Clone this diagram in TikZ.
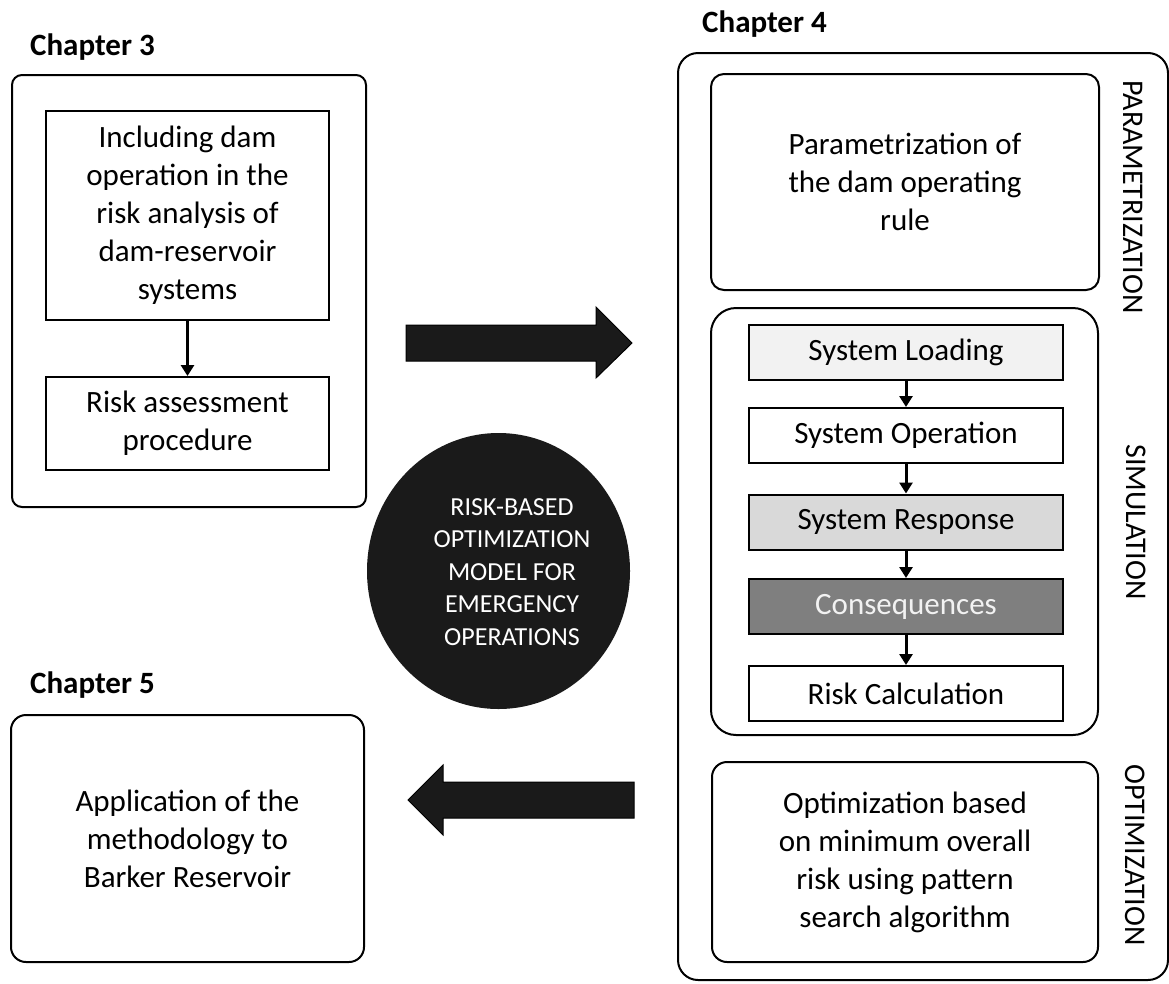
\documentclass[tikz,border=0pt]{standalone}
\usepackage{fontspec}
\setmainfont{Carlito}
\usetikzlibrary{arrows.meta,shapes.geometric}
\definecolor{lightfill}{HTML}{F2F2F2}
\definecolor{midfill}{HTML}{D9D9D9}
\definecolor{darkfill}{HTML}{7F7F7F}
\definecolor{blockfill}{HTML}{1A1A1A}
\begin{document}
\begin{tikzpicture}[x=1pt,y=-1pt,
  every node/.style={font=\fontsize{31}{38}\selectfont, inner sep=0pt},
  chap/.style={font=\fontsize{31}{38}\selectfont\bfseries, anchor=base west},
  frame/.style={draw=black, line width=2pt, rounded corners=#1, align=center},
  frame/.default=14pt,
  plainbox/.style={draw=black, line width=2pt, align=center},
  simbox/.style={draw=black, line width=2pt, align=center, minimum width=314pt, minimum height=55pt},
  side/.style={font=\fontsize{30}{36}\selectfont, rotate=-90},
  flow/.style={line width=3pt, -{Triangle[length=11pt,width=13pt]}},
  block/.style={fill=blockfill, draw=black, line width=1pt, line join=miter}
]
\useasboundingbox (0,0) rectangle (1169,983);

% Chapter 3
\node[chap] (c3lab) at (30,55) {Chapter 3};
\node[frame=10pt, minimum width=354pt, minimum height=432pt] (c3) at (189,291) {};
\node[plainbox, minimum width=283pt, minimum height=209pt] (inc) at (187.5,215.5)
  {Including dam\\operation in the\\risk analysis of\\dam-reservoir\\systems};
\node[plainbox, minimum width=283pt, minimum height=93pt] (rap) at (187.5,423.5)
  {Risk assessment\\procedure};
\draw[flow] (inc.south) -- (rap.north);

% Chapter 4
\node[chap] (c4lab) at (702,32) {Chapter 4};
\node[frame=20pt, minimum width=490pt, minimum height=927pt] (c4) at (923,516.5) {};
\node[frame=13pt, minimum width=388pt, minimum height=216pt] (param) at (905,182)
  {Parametrization of\\the dam operating\\rule};
\node[frame=25pt, minimum width=387pt, minimum height=427pt] (sim) at (904.5,521.5) {};
\node[simbox, fill=lightfill] (load) at (906,352.5) {System Loading};
\node[simbox] (oper) at (906,435.5) {System Operation};
\node[simbox, fill=midfill] (resp) at (906,522) {System Response};
\node[simbox, fill=darkfill, text=lightfill] (cons) at (906,606.5) {Consequences};
\node[simbox] (riskc) at (906,693.5) {Risk Calculation};
\draw[flow] (load.south) -- (oper.north);
\draw[flow] (oper.south) -- (resp.north);
\draw[flow] (resp.south) -- (cons.north);
\draw[flow] (cons.south) -- (riskc.north);
\node[frame=15pt, minimum width=386pt, minimum height=200pt] (opt) at (905,862)
  {Optimization based\\on minimum overall\\risk using pattern\\search algorithm};
\node[side] (lpar) at (1133,197) {PARAMETRIZATION};
\node[side] (lsim) at (1136,522) {SIMULATION};
\node[side] (lopt) at (1135,855) {OPTIMIZATION};

% Chapter 5
\node[chap] (c5lab) at (30,693) {Chapter 5};
\node[frame=15pt, minimum width=353pt, minimum height=247pt] (app) at (187.5,838.5)
  {Application of the\\methodology to\\Barker Reservoir};

% central circle
\node[ellipse, fill=blockfill, minimum width=263pt, minimum height=276pt] (circ) at (498.5,571) {};
\node[font=\fontsize{26}{32.5}\selectfont, text=white, align=center] (circtext) at (512,572)
  {RISK-BASED\\OPTIMIZATION\\MODEL FOR\\EMERGENCY\\OPERATIONS};

% block arrows
\draw[block] (406,325) -- (596,325) -- (596,307) -- (632,343) -- (596,378) -- (596,361) -- (406,361) -- cycle;
\draw[block] (634,782) -- (443,782) -- (443,765) -- (408,800) -- (443,835) -- (443,818) -- (634,818) -- cycle;
\end{tikzpicture}
\end{document}
